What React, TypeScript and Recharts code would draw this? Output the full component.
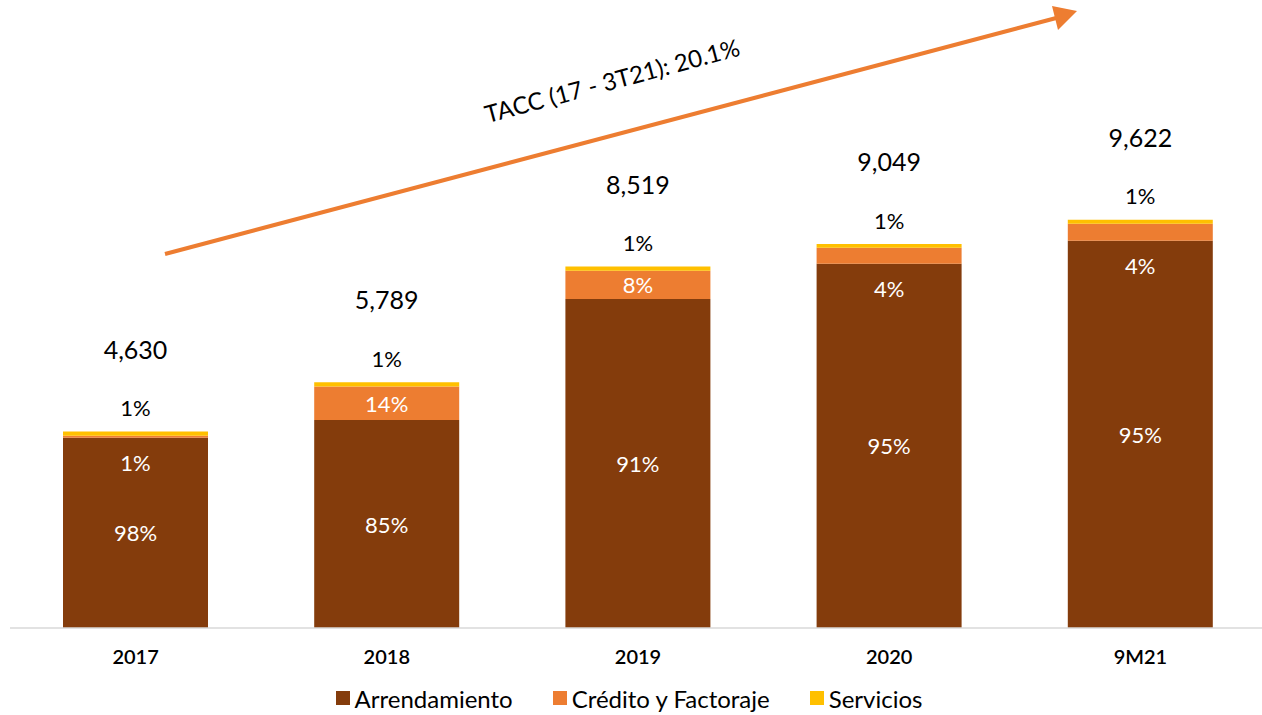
import React from 'react';
import { BarChart, Bar, XAxis, YAxis, LabelList, Legend, Customized } from 'recharts';

const categories = ['2017', '2018', '2019', '2020', '9M21'];
const arrendamiento = [4484, 4899, 7752, 8585, 9127];
const credito = [46, 792, 667, 377, 401];
const servicios = [100, 98, 100, 87, 94];
const totals = ['4,630', '5,789', '8,519', '9,049', '9,622'];
const arrPct = ['98%', '85%', '91%', '95%', '95%'];
const credPct = ['1%', '14%', '8%', '4%', '4%'];
const servPct = ['1%', '1%', '1%', '1%', '1%'];

const BROWN = '#843C0C';
const ORANGE = '#ED7D31';
const YELLOW = '#FFC000';
const FONT = 'Lato, "Noto Sans", sans-serif';

const data = categories.map((c, i) => ({
  cat: c,
  arr: arrendamiento[i],
  cred: credito[i],
  serv: servicios[i],
  arrLbl: arrPct[i],
  credLbl: credPct[i],
  servLbl: servPct[i],
  totLbl: totals[i],
}));

const InnerLabel = (props: any) => {
  const { x, y, width, height, value } = props;
  const cx = Number(x) + Number(width) / 2;
  const cy = Number(height) < 22 ? Number(y) + Number(height) + 25 : Number(y) + Number(height) / 2;
  return (
    <text x={cx} y={cy} fill="#FFFFFF" fontSize={22} fontFamily={FONT} textAnchor="middle" dominantBaseline="central">
      {value}
    </text>
  );
};

const TopLabel = (offset: number, size: number) => (props: any) => {
  const { x, y, width, value } = props;
  const cx = Number(x) + Number(width) / 2;
  return (
    <text x={cx} y={Number(y) - offset} fill="#000000" fontSize={size} fontFamily={FONT} textAnchor="middle" dominantBaseline="central">
      {value}
    </text>
  );
};

const Arrow = () => (
  <g>
    <line x1={165} y1={254} x2={1060} y2={17} stroke={ORANGE} strokeWidth={4} />
    <polygon points="1077,11 1052,6 1058,30" fill={ORANGE} />
    <text
      x={612}
      y={80}
      transform="rotate(-15 612 80)"
      fontSize={24}
      fontFamily={FONT}
      fill="#000000"
      textAnchor="middle"
      dominantBaseline="central"
    >
      TACC (17 - 3T21): 20.1%
    </text>
  </g>
);

const legendItems = [
  { name: 'Arrendamiento', color: BROWN },
  { name: 'Crédito y Factoraje', color: ORANGE },
  { name: 'Servicios', color: YELLOW },
];

const LegendContent = () => (
  <div style={{ display: 'flex', justifyContent: 'center', alignItems: 'center', height: 30, fontFamily: FONT, fontSize: 24, color: '#000', paddingRight: 18 }}>
    {legendItems.map((it) => (
      <div key={it.name} style={{ display: 'flex', alignItems: 'center', margin: '0 20px' }}>
        <span style={{ width: 14, height: 14, background: it.color, display: 'inline-block', marginRight: 5 }} />
        <span>{it.name}</span>
      </div>
    ))}
  </div>
);

export default function App() {
  return (
    <div style={{ position: 'absolute', left: 0, top: 0, width: 1262, height: 715, overflow: 'hidden', background: '#fff' }}>
      <BarChart width={1266} height={715} data={data} margin={{ top: 0, right: 0, left: 10, bottom: 0 }} barSize={145}>
        <XAxis
          dataKey="cat"
          axisLine={{ stroke: '#D9D9D9', strokeWidth: 1.5 }}
          tickLine={false}
          height={55}
          tickMargin={16}
          tick={{ fill: '#000', fontSize: 20, fontFamily: FONT, fontWeight: 600 }}
        />
        <YAxis hide domain={[0, 14800]} allowDataOverflow />
        <Bar dataKey="arr" stackId="a" fill={BROWN} isAnimationActive={false}>
          <LabelList dataKey="arrLbl" content={InnerLabel} />
        </Bar>
        <Bar dataKey="cred" stackId="a" fill={ORANGE} isAnimationActive={false}>
          <LabelList dataKey="credLbl" content={InnerLabel} />
        </Bar>
        <Bar dataKey="serv" stackId="a" fill={YELLOW} isAnimationActive={false}>
          <LabelList dataKey="servLbl" content={TopLabel(24, 22)} />
          <LabelList dataKey="totLbl" content={TopLabel(83, 25)} />
        </Bar>
        <Legend verticalAlign="bottom" height={32} content={LegendContent} />
        <Customized component={Arrow} />
      </BarChart>
    </div>
  );
}
